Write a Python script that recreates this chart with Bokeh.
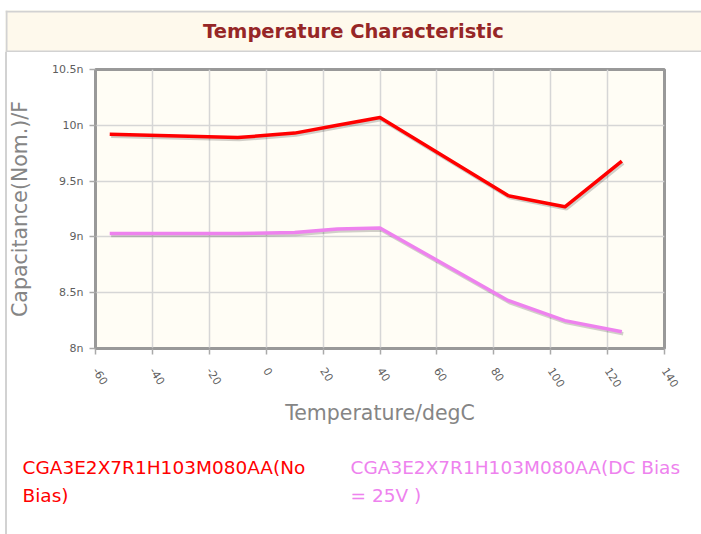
from bokeh.plotting import figure
from bokeh.layouts import column, row
from bokeh.models import FixedTicker, CustomJSTickFormatter, Label, Range1d, Span
from bokeh.embed import file_html
from bokeh.resources import INLINE

# ---- data (temperature in degC, capacitance in nF) ----
temps = [-55, -10, 10, 25, 40, 85, 105, 125]
cap_no_bias = [9.92, 9.89, 9.93, 10.00, 10.07, 9.37, 9.27, 9.68]
cap_dc_bias = [9.03, 9.03, 9.04, 9.07, 9.08, 8.43, 8.25, 8.15]
x_ticks = [-60, -40, -20, 0, 20, 40, 60, 80, 100, 120, 140]
y_ticks = [8, 8.5, 9, 9.5, 10, 10.5]
series_names = ["CGA3E2X7R1H103M080AA(No\nBias)",
                "CGA3E2X7R1H103M080AA(DC Bias\n= 25V )"]
series_colors = ["#FF0000", "#EE82EE"]
title_text = "Temperature Characteristic"
x_label = "Temperature/degC"
y_label = "Capacitance(Nom.)/F"

FONT = "DejaVu Sans"
BORDER = "#d2d2d2"
EDGE_CSS = {"background": "linear-gradient(to right, #ffffff 0px, #ffffff 5px, "
            "%s 5px, %s 7px, #ffffff 7px)" % (BORDER, BORDER)}


def blank(width, height, xr, yr, **kw):
    f = figure(width=width, height=height, output_backend="svg",
               toolbar_location=None, x_axis_type=None, y_axis_type=None,
               x_range=Range1d(*xr), y_range=Range1d(*yr), title=None, **kw)
    f.outline_line_color = None
    f.border_fill_color = "white"
    return f


# ---- title band (frame = band; ranges in pixels of the band) ----
title_fig = blank(701, 52, (0, 696), (0, 42), min_border_left=5,
                  min_border_right=0, min_border_top=10, min_border_bottom=0)
title_fig.background_fill_color = "#FEF9EC"
title_fig.add_layout(Span(location=41, dimension="width", line_color=BORDER,
                          line_width=2))
title_fig.add_layout(Span(location=1, dimension="width", line_color=BORDER,
                          line_width=2))
title_fig.add_layout(Span(location=1, dimension="height", line_color=BORDER,
                          line_width=2))
title_fig.add_layout(Label(x=348, y=21, text=title_text, text_align="center",
                           text_baseline="middle", text_font=FONT,
                           text_font_size="19.5px", text_font_style="bold",
                           text_color="#962626"))

# ---- main chart ----
p = figure(width=701, height=388, output_backend="svg", toolbar_location=None,
           title=None, x_range=Range1d(-60, 140), y_range=Range1d(8, 10.5),
           min_border_left=95, min_border_right=37, min_border_top=17,
           min_border_bottom=92, styles=EDGE_CSS)
p.background_fill_color = "#FFFDF5"
p.border_fill_color = None
p.outline_line_color = "#999999"
p.outline_line_width = 3

p.xgrid.ticker = FixedTicker(ticks=x_ticks)
p.ygrid.ticker = FixedTicker(ticks=y_ticks)
for g in (p.xgrid, p.ygrid):
    g.grid_line_color = "#d6d6d6"
    g.grid_line_width = 1.5

p.xaxis.ticker = FixedTicker(ticks=x_ticks)
p.yaxis.ticker = FixedTicker(ticks=y_ticks)
p.xaxis.formatter = CustomJSTickFormatter(code="return tick.toString();")
p.yaxis.formatter = CustomJSTickFormatter(code="return tick + 'n';")
p.xaxis.major_label_orientation = -1.0
for ax in (p.xaxis, p.yaxis):
    ax.axis_line_color = "#999999"
    ax.axis_line_width = 2
    ax.major_tick_line_color = "#aaaaaa"
    ax.major_tick_line_width = 1.5
    ax.major_tick_in = 0
    ax.major_tick_out = 6
    ax.minor_tick_line_color = None
    ax.major_label_text_font = FONT
    ax.major_label_text_font_size = "11px"
    ax.major_label_text_color = "#5e5e5e"
    ax.axis_label_text_font = FONT
    ax.axis_label_text_font_size = "20.5px"
    ax.axis_label_text_font_style = "normal"
    ax.axis_label_text_color = "#858585"
p.xaxis.axis_label = x_label
p.yaxis.axis_label = y_label
p.xaxis.major_label_standoff = 14
p.yaxis.major_label_standoff = 6
p.xaxis.axis_label_standoff = 8
p.yaxis.axis_label_standoff = 17

# series with soft shadows
dx = 0.5
dy = -0.018
for vals, col in zip([cap_no_bias, cap_dc_bias], series_colors):
    p.line([t + dx for t in temps], [v + dy for v in vals], line_color="black",
           line_alpha=0.18, line_width=3.5)
    p.line(temps, vals, line_color=col, line_width=3.5, line_join="round")

# ---- legend area (coordinates in page pixels) ----
leg = blank(701, 94, (0, 701), (534, 440), min_border_left=0,
            min_border_right=0, min_border_top=0, min_border_bottom=0,
            styles=EDGE_CSS)
leg.background_fill_color = None
leg.border_fill_color = None
legend_x = [22, 350]
for name, col, lx in zip(series_names, series_colors, legend_x):
    leg.add_layout(Label(x=lx, y=456, text=name, text_align="left",
                         text_baseline="top", text_font=FONT,
                         text_font_size="18.5px", text_line_height=1.35,
                         text_color=col))

layout = column(row(title_fig), row(p), row(leg))
open("out.html", "w").write(file_html(layout, INLINE))
